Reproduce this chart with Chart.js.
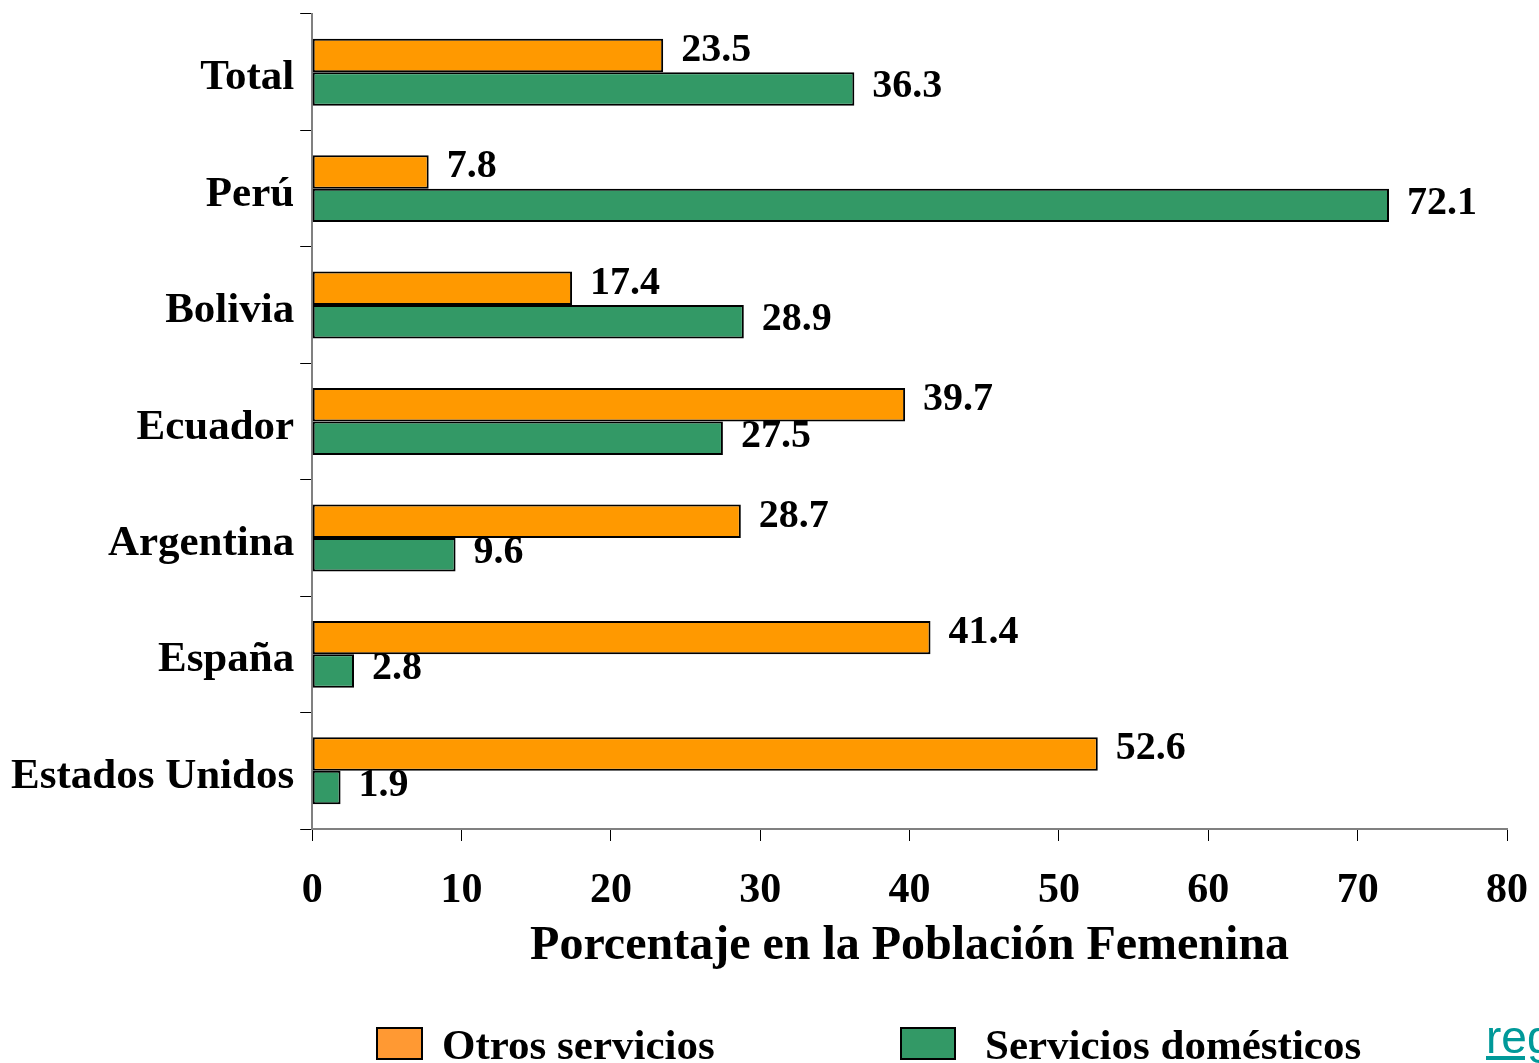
<!DOCTYPE html>
<html>
<head>
<meta charset="utf-8">
<script src="https://cdn.jsdelivr.net/npm/chart.js@4.4.1/dist/chart.umd.min.js"></script>
<style>
    html, body { margin: 0; padding: 0; background: #fff; overflow: hidden; }
    #wrap { position: relative; width: 1539px; height: 1063px; }
    #chart { position: absolute; left: 0; top: 0; }
    .legend-item { position: absolute; top: 1022px; font: bold 43px 'Liberation Serif', 'Times New Roman', serif; color: #000; white-space: nowrap; }
    .swatch { position: absolute; top: 5px; height: 33px; border: 2px solid #000; box-sizing: border-box; }
    .legend-item span.lbl { position: absolute; top: -2px; }
    #link { position: absolute; left: 1486px; top: 1010px; font: 46px 'Liberation Sans', Arial, sans-serif; color: #009999; text-decoration: underline; white-space: nowrap; }
</style>
</head>
<body>
<div id="wrap">
    <canvas id="chart" width="1539" height="1063"></canvas>
    <div class="legend-item" style="left:376px">
        <div class="swatch" style="left:0;width:47px;background:#FF9933"></div>
        <span class="lbl" style="left:66px">Otros servicios</span>
    </div>
    <div class="legend-item" style="left:900px">
        <div class="swatch" style="left:0;width:56px;background:#339966"></div>
        <span class="lbl" style="left:85px">Servicios domésticos</span>
    </div>
    <div id="link">regresar</div>
</div>
<script>
// categories and series
const countries = ['Total', 'Perú', 'Bolivia', 'Ecuador', 'Argentina', 'España', 'Estados Unidos'];
const otrosServicios = [23.5, 7.8, 17.4, 39.7, 28.7, 41.4, 52.6];
const serviciosDomesticos = [36.3, 72.1, 28.9, 27.5, 9.6, 2.8, 1.9];
const seriesNames = ['Otros servicios', 'Servicios domésticos'];
const axisTitle = 'Porcentaje en la Población Femenina';

const serif = "'Liberation Serif', 'Times New Roman', serif";

// value labels to the right of each bar
const valueLabels = {
    id: 'valueLabels',
    afterDatasetsDraw(chart) {
        const ctx = chart.ctx;
        ctx.save();
        ctx.font = 'bold 40px ' + serif;
        ctx.fillStyle = '#000';
        ctx.textAlign = 'left';
        ctx.textBaseline = 'middle';
        chart.data.datasets.forEach((ds, i) => {
            const meta = chart.getDatasetMeta(i);
            const dy = i === 0 ? -5 : -2;
            meta.data.forEach((bar, j) => {
                ctx.fillText(ds.data[j].toFixed(1), bar.x + 18, bar.y + dy);
            });
        });
        ctx.restore();
    }
};

new Chart(document.getElementById('chart'), {
    type: 'bar',
    data: {
        labels: countries,
        datasets: [{
            label: seriesNames[0],
            data: otrosServicios,
            backgroundColor: '#FF9900',
            borderColor: '#000',
            borderWidth: 2,
            borderSkipped: false
        }, {
            label: seriesNames[1],
            data: serviciosDomesticos,
            backgroundColor: '#339966',
            borderColor: '#000',
            borderWidth: 2,
            borderSkipped: false
        }]
    },
    options: {
        indexAxis: 'y',
        responsive: false,
        animation: false,
        categoryPercentage: 0.575,
        barPercentage: 1,
        layout: { padding: { left: 5, top: 14, right: 32, bottom: 88 } },
        plugins: {
            legend: { display: false },
            tooltip: { enabled: false }
        },
        scales: {
            x: {
                min: 0,
                max: 80,
                ticks: {
                    stepSize: 10,
                    color: '#000',
                    padding: 25,
                    font: { family: serif, size: 42, weight: 'bold' }
                },
                grid: { drawOnChartArea: false, tickLength: 12, color: '#000' },
                border: { color: '#808080', width: 2 },
                title: {
                    display: true,
                    text: axisTitle,
                    color: '#000',
                    padding: { top: -24, bottom: 0 },
                    font: { family: serif, size: 48, weight: 'bold' }
                },
                // the layout padding already leaves room for the "80" label
                afterFit(scale) {
                    scale.paddingRight = 0;
                }
            },
            y: {
                ticks: {
                    color: '#000',
                    padding: 6,
                    labelOffset: 6,
                    font: { family: serif, size: 43, weight: 'bold' }
                },
                grid: { drawOnChartArea: false, offset: true, tickLength: 12, color: '#000' },
                border: { color: '#808080', width: 2 },
                // labels sit inside their bands, no extra room needed above/below
                afterFit(scale) {
                    scale.paddingTop = 0;
                    scale.paddingBottom = 0;
                }
            }
        }
    },
    plugins: [valueLabels]
});
</script>
</body>
</html>
